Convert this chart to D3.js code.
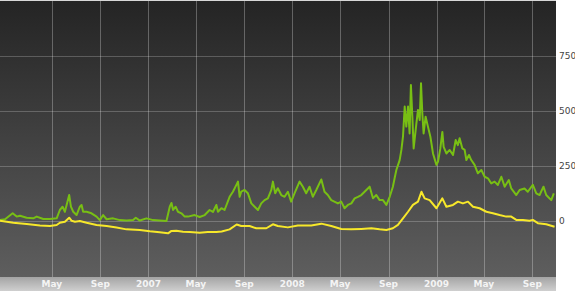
<!DOCTYPE html>
<html>
<head>
<meta charset="utf-8">
<script src="https://cdn.jsdelivr.net/npm/d3@7"></script>
<style>
  body { margin: 0; background: #fff; }
  svg { display: block; }
  .xlab { font: bold 9px "DejaVu Sans", sans-serif; fill: #f4f4f4; }
  .ylab { font: 9px "DejaVu Sans", sans-serif; fill: #444; }
</style>
</head>
<body>
<svg id="chart"></svg>
<script>
// dates as decimal years
const greenDates = [2005.968, 2006.003, 2006.056, 2006.084, 2006.107, 2006.153, 2006.199, 2006.223, 2006.269, 2006.315,
  2006.362, 2006.384, 2006.403, 2006.419, 2006.431, 2006.449, 2006.461, 2006.477, 2006.500, 2006.523,
  2006.535, 2006.546, 2006.570, 2006.604, 2006.639, 2006.662, 2006.685, 2006.709, 2006.754, 2006.801,
  2006.847, 2006.893, 2006.912, 2006.940, 2006.986, 2007.032, 2007.078, 2007.125, 2007.148, 2007.160,
  2007.171, 2007.189, 2007.205, 2007.229, 2007.252, 2007.275, 2007.321, 2007.356, 2007.391, 2007.425,
  2007.448, 2007.472, 2007.483, 2007.507, 2007.529, 2007.564, 2007.587, 2007.611, 2007.622, 2007.634,
  2007.645, 2007.668, 2007.691, 2007.715, 2007.738, 2007.761, 2007.784, 2007.807, 2007.830, 2007.854,
  2007.865, 2007.881, 2007.899, 2007.923, 2007.946, 2007.969, 2007.992, 2008.015, 2008.050, 2008.073,
  2008.096, 2008.119, 2008.142, 2008.166, 2008.201, 2008.223, 2008.246, 2008.270, 2008.316, 2008.339,
  2008.362, 2008.385, 2008.409, 2008.432, 2008.455, 2008.478, 2008.513, 2008.536, 2008.559, 2008.582,
  2008.605, 2008.628, 2008.652, 2008.675, 2008.697, 2008.709, 2008.721, 2008.744, 2008.756, 2008.767,
  2008.779, 2008.790, 2008.802, 2008.813, 2008.822, 2008.832, 2008.841, 2008.860, 2008.871, 2008.883,
  2008.892, 2008.901, 2008.910, 2008.924, 2008.940, 2008.957, 2008.975, 2008.999, 2009.010, 2009.026,
  2009.040, 2009.049, 2009.068, 2009.091, 2009.114, 2009.133, 2009.148, 2009.160, 2009.179, 2009.195,
  2009.207, 2009.225, 2009.241, 2009.264, 2009.287, 2009.311, 2009.334, 2009.357, 2009.380, 2009.403,
  2009.426, 2009.450, 2009.473, 2009.502, 2009.519, 2009.554, 2009.577, 2009.611, 2009.634, 2009.669,
  2009.693, 2009.716, 2009.743, 2009.762, 2009.797, 2009.815];
const greenValues = [4, 8, 35, 20, 24, 15, 12, 20, 9, 9,
  12, 50, 65, 42, 73, 118, 65, 42, 27, 65,
  73, 42, 42, 35, 20, 4, 27, 8, 12, 4,
  2, 4, 15, 2, 12, 4, 2, 0, 65, 82,
  50, 65, 42, 35, 20, 20, 27, 18, 27, 50,
  41, 73, 42, 58, 50, 110, 133, 164, 179, 110,
  133, 141, 126, 80, 65, 50, 80, 95, 103, 141,
  179, 126, 149, 118, 110, 133, 88, 126, 179, 156,
  126, 156, 110, 141, 189, 133, 118, 95, 80, 88,
  58, 73, 80, 103, 110, 118, 141, 156, 103, 118,
  95, 95, 73, 110, 156, 194, 232, 277, 323, 383,
  520, 429, 520, 398, 618, 474, 330, 444, 505, 459,
  626, 490, 398, 474, 429, 383, 307, 255, 270, 330,
  405, 337, 307, 323, 300, 368, 345, 376, 330, 323,
  277, 300, 277, 255, 217, 232, 201, 194, 171, 179,
  164, 201, 156, 186, 148, 118, 141, 148, 133, 164,
  126, 118, 156, 118, 95, 126];

const yellowDates = [2005.968, 2006.015, 2006.060, 2006.153, 2006.246, 2006.315, 2006.362, 2006.384, 2006.419, 2006.449,
  2006.466, 2006.489, 2006.523, 2006.570, 2006.639, 2006.709, 2006.778, 2006.847, 2006.940, 2007.009,
  2007.078, 2007.136, 2007.160, 2007.194, 2007.240, 2007.287, 2007.356, 2007.412, 2007.472, 2007.509,
  2007.564, 2007.613, 2007.645, 2007.703, 2007.749, 2007.819, 2007.865, 2007.899, 2007.969, 2008.038,
  2008.085, 2008.131, 2008.201, 2008.270, 2008.339, 2008.409, 2008.478, 2008.548, 2008.605, 2008.652,
  2008.697, 2008.732, 2008.767, 2008.802, 2008.836, 2008.871, 2008.895, 2008.917, 2008.952, 2008.999,
  2009.040, 2009.068, 2009.114, 2009.148, 2009.183, 2009.218, 2009.253, 2009.299, 2009.346, 2009.391,
  2009.438, 2009.484, 2009.519, 2009.554, 2009.600, 2009.646, 2009.669, 2009.704, 2009.762, 2009.820];
const yellowValues = [1, -3, -8, -14, -20, -23, -18, -8, -3, 15,
  1, -3, 0, -8, -18, -23, -30, -38, -41, -47,
  -51, -56, -45, -44, -49, -50, -53, -50, -50, -48,
  -38, -16, -23, -23, -33, -33, -15, -23, -29, -20,
  -20, -20, -12, -23, -36, -38, -36, -33, -38, -41,
  -33, -18, 12, 42, 73, 88, 133, 103, 95, 58,
  103, 65, 73, 88, 80, 88, 65, 58, 42, 35,
  27, 20, 20, 5, 5, 1, 5, -10, -15, -26];

const yTicks = [0, 250, 500, 750];
const monthNames = ["Jan", "Feb", "Mar", "Apr", "May", "Jun", "Jul", "Aug", "Sep", "Oct", "Nov", "Dec"];

const width = 575, height = 291;
const plotW = 556, plotH = 277;

const toDate = (d) => {
  const y = Math.floor(d);
  const a = Date.UTC(y, 0, 1), b = Date.UTC(y + 1, 0, 1);
  return new Date(a + (d - y) * (b - a));
};

const green = greenDates.map((d, i) => ({ date: toDate(d), value: greenValues[i] }));
const yellow = yellowDates.map((d, i) => ({ date: toDate(d), value: yellowValues[i] }));

const svg = d3.select("#chart").attr("width", width).attr("height", height);

const xScale = d3.scaleUtc().domain([toDate(2005.968), toDate(2009.83)]).range([0, plotW]);
const yScale = d3.scaleLinear().domain([-250, 1000]).range([plotH - 1, 1]);

// background gradients
const defs = svg.append("defs");
const bg = defs.append("linearGradient").attr("id", "bg").attr("x1", 0).attr("y1", 0).attr("x2", 0).attr("y2", 1);
bg.append("stop").attr("offset", "0%").attr("stop-color", "#242424");
bg.append("stop").attr("offset", "100%").attr("stop-color", "#5e5e5e");
const band = defs.append("linearGradient").attr("id", "band").attr("x1", 0).attr("y1", 0).attr("x2", 0).attr("y2", 1);
band.append("stop").attr("offset", "0%").attr("stop-color", "#a4a4a4");
band.append("stop").attr("offset", "100%").attr("stop-color", "#cfcfcf");

svg.append("rect").attr("width", plotW).attr("height", plotH).attr("fill", "url(#bg)");
svg.append("rect").attr("y", plotH).attr("width", plotW).attr("height", height - plotH).attr("fill", "url(#band)");
svg.append("line").attr("x1", 0).attr("x2", plotW).attr("y1", 0.5).attr("y2", 0.5)
  .attr("stroke", "#d8d8d8").attr("stroke-width", 1);

// grid
const xTicks = xScale.ticks(d3.utcMonth.every(4)).filter((d) => xScale(d) > 5 && xScale(d) < plotW - 5);
svg.append("g").selectAll("line").data(xTicks).join("line")
  .attr("x1", (d) => Math.round(xScale(d)) + 0.5).attr("x2", (d) => Math.round(xScale(d)) + 0.5)
  .attr("y1", 1).attr("y2", plotH)
  .attr("stroke", "rgba(255,255,255,0.28)");
svg.append("g").selectAll("line").data(yTicks).join("line")
  .attr("x1", 0).attr("x2", plotW)
  .attr("y1", (d) => Math.round(yScale(d)) + 0.5).attr("y2", (d) => Math.round(yScale(d)) + 0.5)
  .attr("stroke", "rgba(255,255,255,0.22)");

// lines
const line = d3.line().x((d) => xScale(d.date)).y((d) => yScale(d.value));
svg.append("path").datum(green).attr("d", line)
  .attr("fill", "none").attr("stroke", "#78bf14").attr("stroke-width", 2).attr("stroke-linejoin", "round");
svg.append("path").datum(yellow).attr("d", line)
  .attr("fill", "none").attr("stroke", "#f7e82a").attr("stroke-width", 2).attr("stroke-linejoin", "round");

// x labels
svg.append("g").selectAll("text").data(xTicks).join("text")
  .attr("class", "xlab")
  .attr("x", (d) => xScale(d))
  .attr("y", 287)
  .attr("text-anchor", "middle")
  .text((d) => d.getUTCMonth() === 0 ? d.getUTCFullYear() : monthNames[d.getUTCMonth()]);

// y labels on the right
svg.append("g").selectAll("text").data(yTicks).join("text")
  .attr("class", "ylab")
  .attr("x", 559)
  .attr("y", (d) => yScale(d))
  .attr("dy", "0.35em")
  .text((d) => d);
</script>
</body>
</html>
